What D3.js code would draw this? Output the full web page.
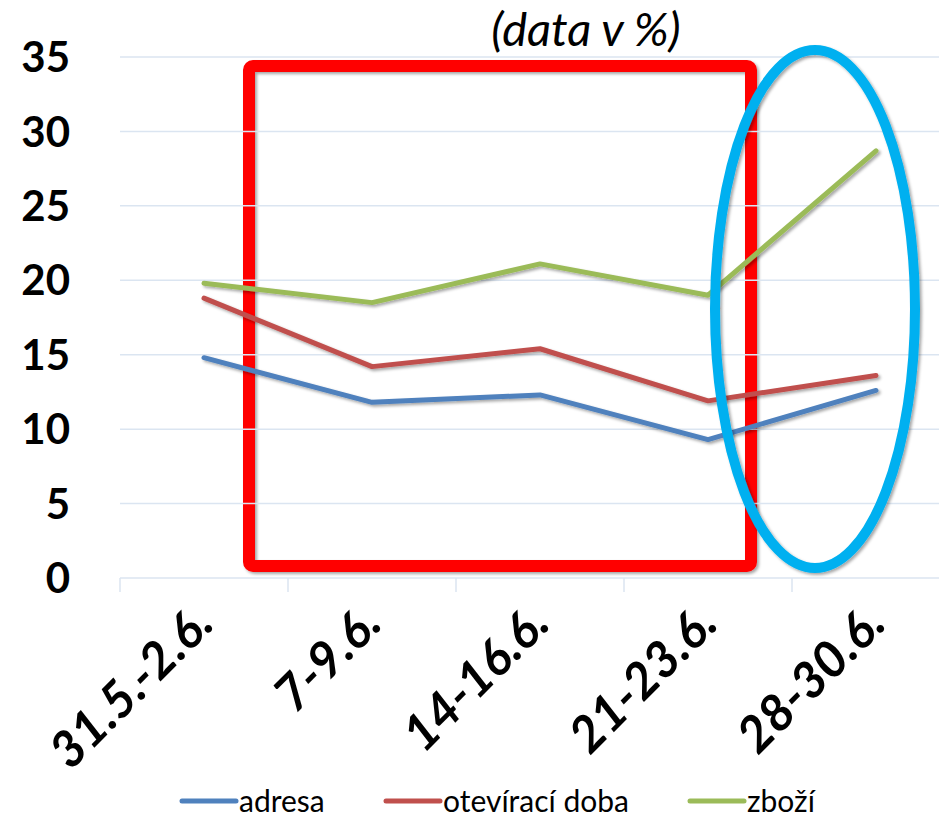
<!DOCTYPE html>
<html lang="cs">
<head>
    <meta charset="UTF-8">
    <title>data v %</title>
    <script src="https://d3js.org/d3.v7.min.js"></script>
    <style>
        body { margin: 0; background: #fff; }
        text { font-family: Lato, "Open Sans", sans-serif; fill: #000; }
        .grid line { stroke: #dbe5f1; stroke-width: 1.5px; }
        .series { fill: none; stroke-width: 5px; stroke-linecap: round; stroke-linejoin: round; }
    </style>
</head>
<body>
<svg width="939" height="817"></svg>
<script>
// categories and series
const categories = ["31.5.-2.6.", "7-9.6.", "14-16.6.", "21-23.6.", "28-30.6."];
const adresa = [14.8, 11.8, 12.3, 9.3, 12.6];
const oteviraciDoba = [18.8, 14.2, 15.4, 11.9, 13.6];
const zbozi = [19.8, 18.5, 21.1, 19.0, 28.7];
const yTicks = [0, 5, 10, 15, 20, 25, 30, 35];

const seriesNames = ["adresa", "otevírací doba", "zboží"];
const seriesColors = ["#4f81bd", "#c0504d", "#9bbb59"];
const series = [adresa, oteviraciDoba, zbozi];

const width = 939, height = 817;
const svg = d3.select("svg");

const x = d3.scaleBand().domain(categories).range([120, 960]).padding(0);
const y = d3.scaleLinear().domain([0, 35]).range([578, 57]);

// soft shadow like the office shapes
const defs = svg.append("defs");
const f = defs.append("filter").attr("id", "shadow")
    .attr("x", "-10%").attr("y", "-10%").attr("width", "130%").attr("height", "130%");
f.append("feDropShadow").attr("dx", 2).attr("dy", 2).attr("stdDeviation", 1.5)
    .attr("flood-color", "#000").attr("flood-opacity", 0.35);

// red box annotation (behind grid, like in the original)
svg.append("rect")
    .attr("x", 249).attr("y", 66)
    .attr("width", 502).attr("height", 500)
    .attr("rx", 4)
    .attr("fill", "none").attr("stroke", "#ff0000").attr("stroke-width", 12)
    .attr("filter", "url(#shadow)");

// gridlines
svg.append("g").attr("class", "grid")
    .selectAll("line")
    .data(yTicks.filter(d => d > 0))
    .join("line")
    .attr("x1", 120).attr("x2", width)
    .attr("y1", d => y(d)).attr("y2", d => y(d));

// x axis line and ticks
const xAxis = svg.append("g").attr("transform", `translate(0,${y(0)})`)
    .call(d3.axisBottom(x).tickSize(0).tickFormat(""));
xAxis.select(".domain").remove();
xAxis.append("line").attr("x1", 120).attr("x2", width)
    .attr("stroke", "#dbe5f1").attr("stroke-width", 1.5);
xAxis.selectAll(".edge")
    .data(categories)
    .join("line")
    .attr("class", "edge")
    .attr("x1", d => x(d)).attr("x2", d => x(d))
    .attr("y1", 0).attr("y2", 14)
    .attr("stroke", "#dbe5f1").attr("stroke-width", 1.5);

// x labels
svg.append("g").selectAll("text")
    .data(categories)
    .join("text")
    .attr("transform", d => `translate(${x(d) + x.bandwidth() / 2 + 12},${626}) rotate(-45)`)
    .attr("text-anchor", "end")
    .attr("font-size", 50)
    .attr("font-weight", "bold")
    .attr("font-style", "italic")
    .text(d => d);

// y labels
svg.append("g").selectAll("text")
    .data(yTicks)
    .join("text")
    .attr("x", 70).attr("y", d => y(d))
    .attr("dy", "0.36em")
    .attr("text-anchor", "end")
    .attr("font-size", 42)
    .attr("font-weight", "bold")
    .text(d => d);

// lines
const line = d3.line()
    .x((d, i) => x(categories[i]) + x.bandwidth() / 2)
    .y(d => y(d));

svg.append("g").selectAll("path")
    .data(series)
    .join("path")
    .attr("class", "series")
    .attr("stroke", (d, i) => seriesColors[i])
    .attr("filter", "url(#shadow)")
    .attr("d", line);

// blue ellipse annotation
svg.append("ellipse")
    .attr("cx", 815).attr("cy", 309)
    .attr("rx", 100).attr("ry", 259)
    .attr("fill", "none").attr("stroke", "#00b0f0").attr("stroke-width", 10)
    .attr("filter", "url(#shadow)");

// title
svg.append("text")
    .attr("x", 586).attr("y", 46)
    .attr("text-anchor", "middle")
    .attr("font-size", 47)
    .attr("font-style", "italic")
    .text("(data v %)");

// legend
const legendX = [182, 386, 690];
const leg = svg.append("g").selectAll("g")
    .data(seriesNames)
    .join("g")
    .attr("transform", (d, i) => `translate(${legendX[i]},801)`);
leg.append("line")
    .attr("x1", 0).attr("x2", 54)
    .attr("stroke", (d, i) => seriesColors[i])
    .attr("stroke-width", 5).attr("stroke-linecap", "round");
leg.append("text")
    .attr("x", 57).attr("dy", "0.36em")
    .attr("font-size", 30)
    .text(d => d);
</script>
</body>
</html>
